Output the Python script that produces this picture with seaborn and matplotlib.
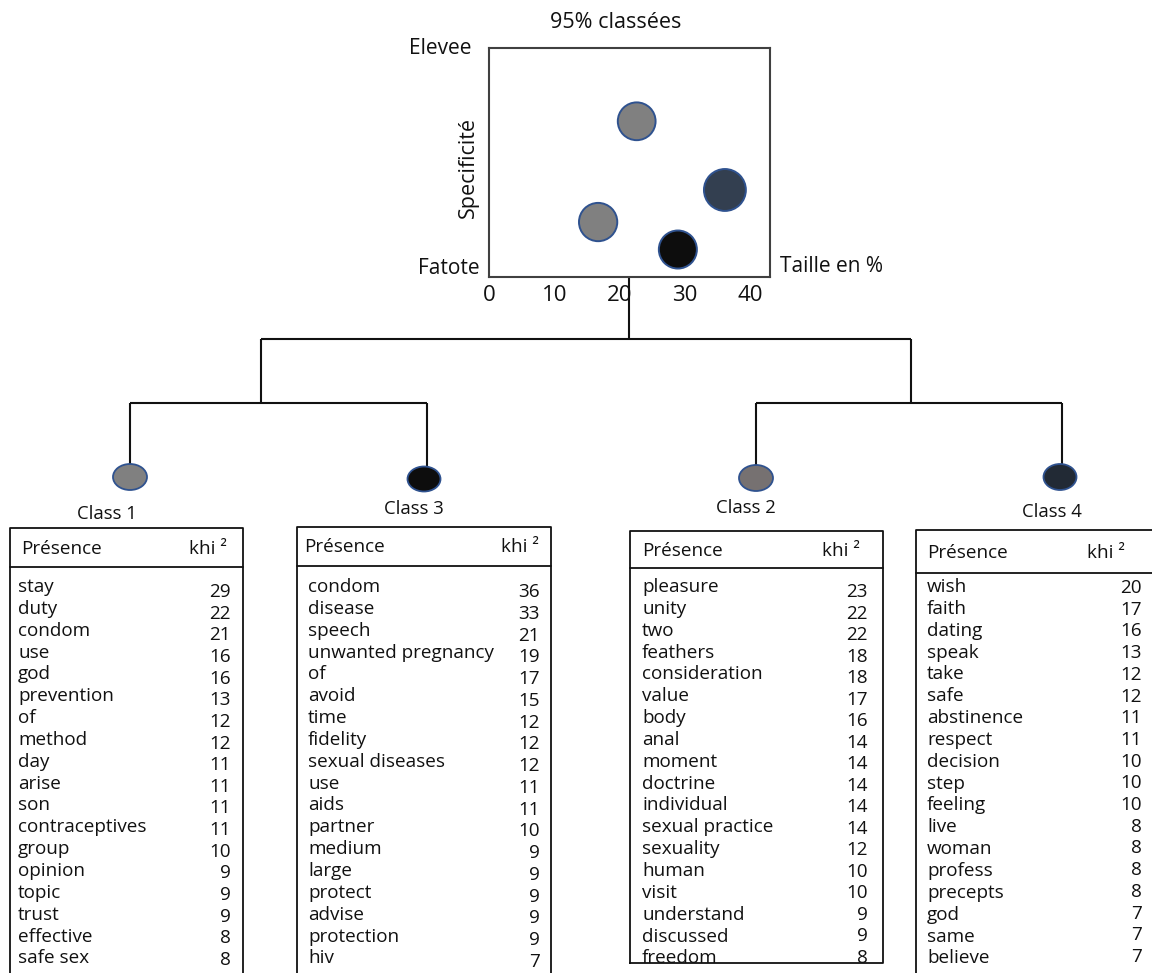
import numpy as np
import pandas as pd
import seaborn as sns
import matplotlib.pyplot as plt
from matplotlib.patches import Ellipse

# bubble chart: taille en % vs specificite
classes = ["Class 1", "Class 2", "Class 3", "Class 4"]
taille = [16.7, 22.6, 28.9, 36.1]
specificite = [2.4, 6.8, 1.2, 3.8]
x_ticks = [0, 10, 20, 30, 40]

# word lists with khi2 per class
words_c1 = ["stay", "duty", "condom", "use", "god", "prevention", "of", "method", "day",
            "arise", "son", "contraceptives", "group", "opinion", "topic", "trust",
            "effective", "safe sex"]
khi_c1 = [29, 22, 21, 16, 16, 13, 12, 12, 11, 11, 11, 11, 10, 9, 9, 9, 8, 8]

words_c3 = ["condom", "disease", "speech", "unwanted pregnancy", "of", "avoid", "time",
            "fidelity", "sexual diseases", "use", "aids", "partner", "medium", "large",
            "protect", "advise", "protection", "hiv"]
khi_c3 = [36, 33, 21, 19, 17, 15, 12, 12, 12, 11, 11, 10, 9, 9, 9, 9, 9, 7]

words_c2 = ["pleasure", "unity", "two", "feathers", "consideration", "value", "body", "anal",
            "moment", "doctrine", "individual", "sexual practice", "sexuality", "human",
            "visit", "understand", "discussed", "freedom"]
khi_c2 = [23, 22, 22, 18, 18, 17, 16, 14, 14, 14, 14, 14, 12, 10, 10, 9, 9, 8]

words_c4 = ["wish", "faith", "dating", "speak", "take", "safe", "abstinence", "respect",
            "decision", "step", "feeling", "live", "woman", "profess", "precepts", "god",
            "same", "believe"]
khi_c4 = [20, 17, 16, 13, 12, 12, 11, 11, 10, 10, 10, 8, 8, 8, 8, 7, 7, 7]

sns.set_theme(style="white")
plt.rcParams["font.family"] = ["Open Sans", "DejaVu Sans"]

W, H = 1152, 973
fig = plt.figure(figsize=(W / 100, H / 100), dpi=100)
bg = fig.add_axes([0, 0, 1, 1])
bg.set_xlim(0, W)
bg.set_ylim(H, 0)
bg.axis("off")


def frac(x0, y0, x1, y1):
    return [x0 / W, 1 - y1 / H, (x1 - x0) / W, (y1 - y0) / H]


# --- scatter panel ---
ax = fig.add_axes(frac(489, 48, 770, 277))
df = pd.DataFrame({"classe": classes, "taille": taille, "spec": specificite})
fill = {"Class 1": "#808080", "Class 2": "#808080", "Class 3": "#0d0d0d", "Class 4": "#333f50"}
area = {"Class 1": 760, "Class 2": 740, "Class 3": 750, "Class 4": 910}
sns.scatterplot(data=df, x="taille", y="spec", hue="classe", palette=fill,
                size="classe", sizes=area, edgecolor="#2f528f", linewidth=1.4,
                legend=False, ax=ax, zorder=3)
ax.set_xlim(0, 43)
ax.set_ylim(0, 10)
ax.set_xticks(x_ticks)
ax.set_xticklabels([str(t) for t in x_ticks])
ax.set_yticks([])
ax.tick_params(axis="x", length=0, pad=6, labelsize=16, colors="#111111")
ax.set_xlabel("")
ax.set_ylabel("")
for sp in ax.spines.values():
    sp.set_visible(True)
    sp.set_color("#404040")
    sp.set_linewidth(1.5)

txt = dict(color="#111111", va="center")
bg.text(616, 22, "95% classées", ha="center", fontsize=15.5, **txt)
bg.text(440, 49, "Elevee", ha="center", fontsize=15, **txt)
bg.text(449, 269, "Fatote", ha="center", fontsize=15, **txt)
bg.text(780, 267, "Taille en %", ha="left", fontsize=15, **txt)
bg.text(468, 167, "Specificité", ha="center", rotation=90, fontsize=15.5, **txt)

# --- dendrogram ---
lk = dict(color="#111111", lw=1.5, solid_capstyle="butt")
segments = [
    ((629, 629), (277, 339)),
    ((261, 911), (339, 339)),
    ((261, 261), (339, 403)),
    ((911, 911), (339, 403)),
    ((130, 427), (403, 403)),
    ((756, 1062), (403, 403)),
    ((130, 130), (403, 465)),
    ((427, 427), (403, 467)),
    ((756, 756), (403, 466)),
    ((1062, 1062), (403, 465)),
]
for xs, ys in segments:
    bg.plot(xs, ys, **lk)

nodes = [
    ((130, 477), 34, 26, "#808080"),
    ((424, 479), 33, 25, "#0d0d0d"),
    ((756, 478), 34, 26, "#767171"),
    ((1060, 477), 33, 26, "#222a35"),
]
for c, w, h, col in nodes:
    bg.add_patch(Ellipse(c, w, h, facecolor=col, edgecolor="#2f528f", lw=1.3, zorder=3))

# --- tables ---
tables = [
    # label, (lx, ly), left, right, top, sep, bottom, wx, nx, words, khi, n0, n1
    ("Class 1", (107, 514), 10, 243, 528, 567, 990, 18, 231, words_c1, khi_c1, 592, 960),
    ("Class 3", (414, 509), 297, 551, 527, 566, 990, 308, 540, words_c3, khi_c3, 592, 962),
    ("Class 2", (746, 508), 630, 883, 531, 568, 963, 642, 868, words_c2, khi_c2, 592, 958),
    ("Class 4", (1052, 512), 916, 1175, 530, 573, 990, 927, 1142, words_c4, khi_c4, 588, 957),
]
khi_x = {"Class 1": 189, "Class 3": 501, "Class 2": 822, "Class 4": 1087}
pres_x = {"Class 1": 21, "Class 3": 304, "Class 2": 642, "Class 4": 927}

bk = dict(color="#111111", lw=1.3)
fs = 13.6
for (lab, (lx, ly), x0, x1, y0, ysep, y1, wx, nx, words, khi, n0, n1) in tables:
    bg.text(lx, ly, lab, ha="center", va="center", fontsize=13.3, color="#111111")
    bg.plot([x0, x1, x1, x0, x0], [y1, y1, y0, y0, y1], **bk)
    bg.plot([x0, x1], [ysep, ysep], **bk)
    hy = (y0 + ysep) / 2 + 1
    bg.text(pres_x[lab], hy, "Présence", ha="left", va="center", fontsize=fs, color="#111111")
    bg.text(khi_x[lab], hy, "khi ²", ha="left", va="center", fontsize=fs, color="#111111")
    n = len(words)
    wy = np.linspace(587, 587 + 21.85 * (n - 1), n)
    ny = np.linspace(n0, n1, n)
    for w, k, yw, yn in zip(words, khi, wy, ny):
        bg.text(wx, yw, w, ha="left", va="center", fontsize=fs, color="#111111")
        bg.text(nx, yn, str(k), ha="right", va="center", fontsize=fs, color="#111111")

fig.savefig("out.png", dpi=100)
